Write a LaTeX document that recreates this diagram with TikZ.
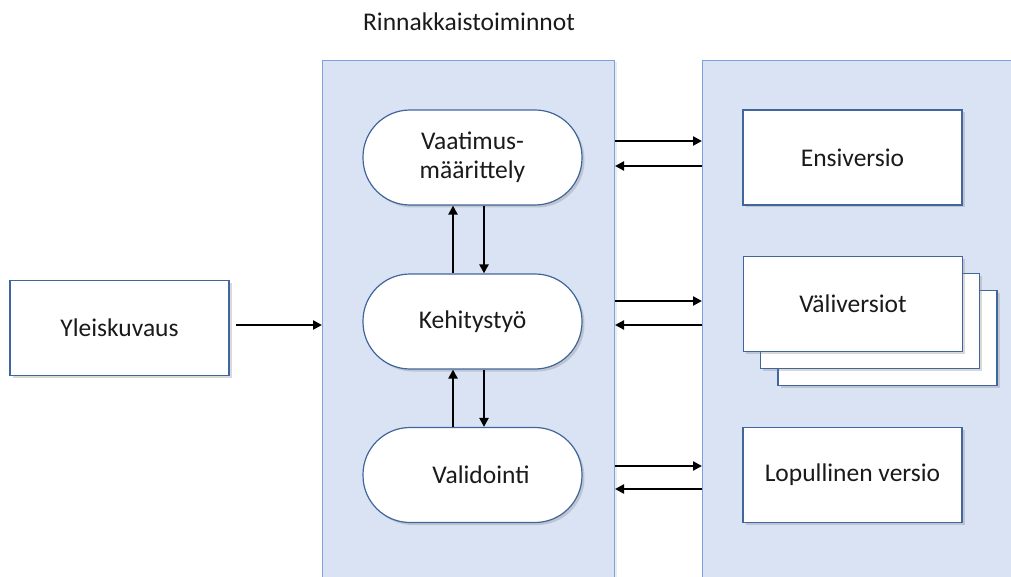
\documentclass[tikz,border=0pt]{standalone}
\usepackage{fontspec}
\setmainfont{Carlito}
\usetikzlibrary{arrows.meta,shadows,positioning}
\definecolor{panelfill}{HTML}{DAE3F3}
\definecolor{panelline}{HTML}{7EA0DB}
\definecolor{boxline}{HTML}{41669E}
\definecolor{ink}{HTML}{1A1A1A}
\tikzset{
  panel/.style={draw=panelline, fill=panelfill, line width=1pt, anchor=north west,
    drop shadow={shadow xshift=2pt, shadow yshift=-2pt, opacity=0.15}},
  docbox/.style={draw=boxline, fill=white, line width=1.2pt, minimum width=219pt,
    minimum height=95pt, inner sep=0pt, text=ink, font=\fontsize{25.5}{29}\selectfont,
    drop shadow={shadow xshift=2.5pt, shadow yshift=-2.5pt, opacity=0.3}},
  stadium/.style={docbox, rounded corners=47pt, align=center},
  flow/.style={line width=2.8pt, -{Triangle[length=9pt,width=9pt]}, black},
}
\begin{document}
\begin{tikzpicture}[x=1pt, y=-1pt]
  \useasboundingbox (0,0) rectangle (1011,577);

  % title above the centre column
  \node[text=ink, font=\fontsize{25.5}{29}\selectfont] (title) at (469,22) {Rinnakkaistoiminnot};

  % the two background columns
  \node[panel, minimum width=292pt, minimum height=520pt] (mid) at (322,60) {};
  \node[panel, minimum width=320pt, minimum height=520pt] (right) at (702,60) {};

  % overview box on the left
  \node[docbox] (yleis) at (119.5,328) {Yleiskuvaus};

  % parallel activities
  \node[stadium] (vaat) at (472.5,157.5) {Vaatimus-\\määrittely};
  \node[stadium] (kehi) at (472.5,321.5) {Kehitystyö};
  \node[stadium] (vali) at (472.5,475) {\hspace*{17pt}Validointi};

  % versions
  \node[docbox] (ensi) at (852.5,157.5) {Ensiversio};
  \node[docbox] (valiv3) at (887.5,338) {};
  \node[docbox] (valiv2) at (870,321) {};
  \node[docbox] (valiv) at (853,304) {Väliversiot};
  \node[docbox] (lopu) at (852.5,475) {Lopullinen versio};

  % overview into the activity column
  \draw[flow] (yleis.east |- 0,325) ++(6,0) coordinate (ya) -- (mid.west |- ya);

  % between activities
  \draw[flow] (kehi.north -| 453,0) -- (vaat.south -| 453,0);
  \draw[flow] (vaat.south -| 484,0) -- (kehi.north -| 484,0);
  \draw[flow] (vali.north -| 453,0) -- (kehi.south -| 453,0);
  \draw[flow] (kehi.south -| 484,0) -- (vali.north -| 484,0);

  % activities <-> versions
  \draw[flow] (mid.east |- 0,141) -- (right.west |- 0,141);
  \draw[flow] (right.west |- 0,166) -- (mid.east |- 0,166);
  \draw[flow] (mid.east |- 0,301) -- (right.west |- 0,301);
  \draw[flow] (right.west |- 0,325) -- (mid.east |- 0,325);
  \draw[flow] (mid.east |- 0,466) -- (right.west |- 0,466);
  \draw[flow] (right.west |- 0,489) -- (mid.east |- 0,489);
\end{tikzpicture}
\end{document}
